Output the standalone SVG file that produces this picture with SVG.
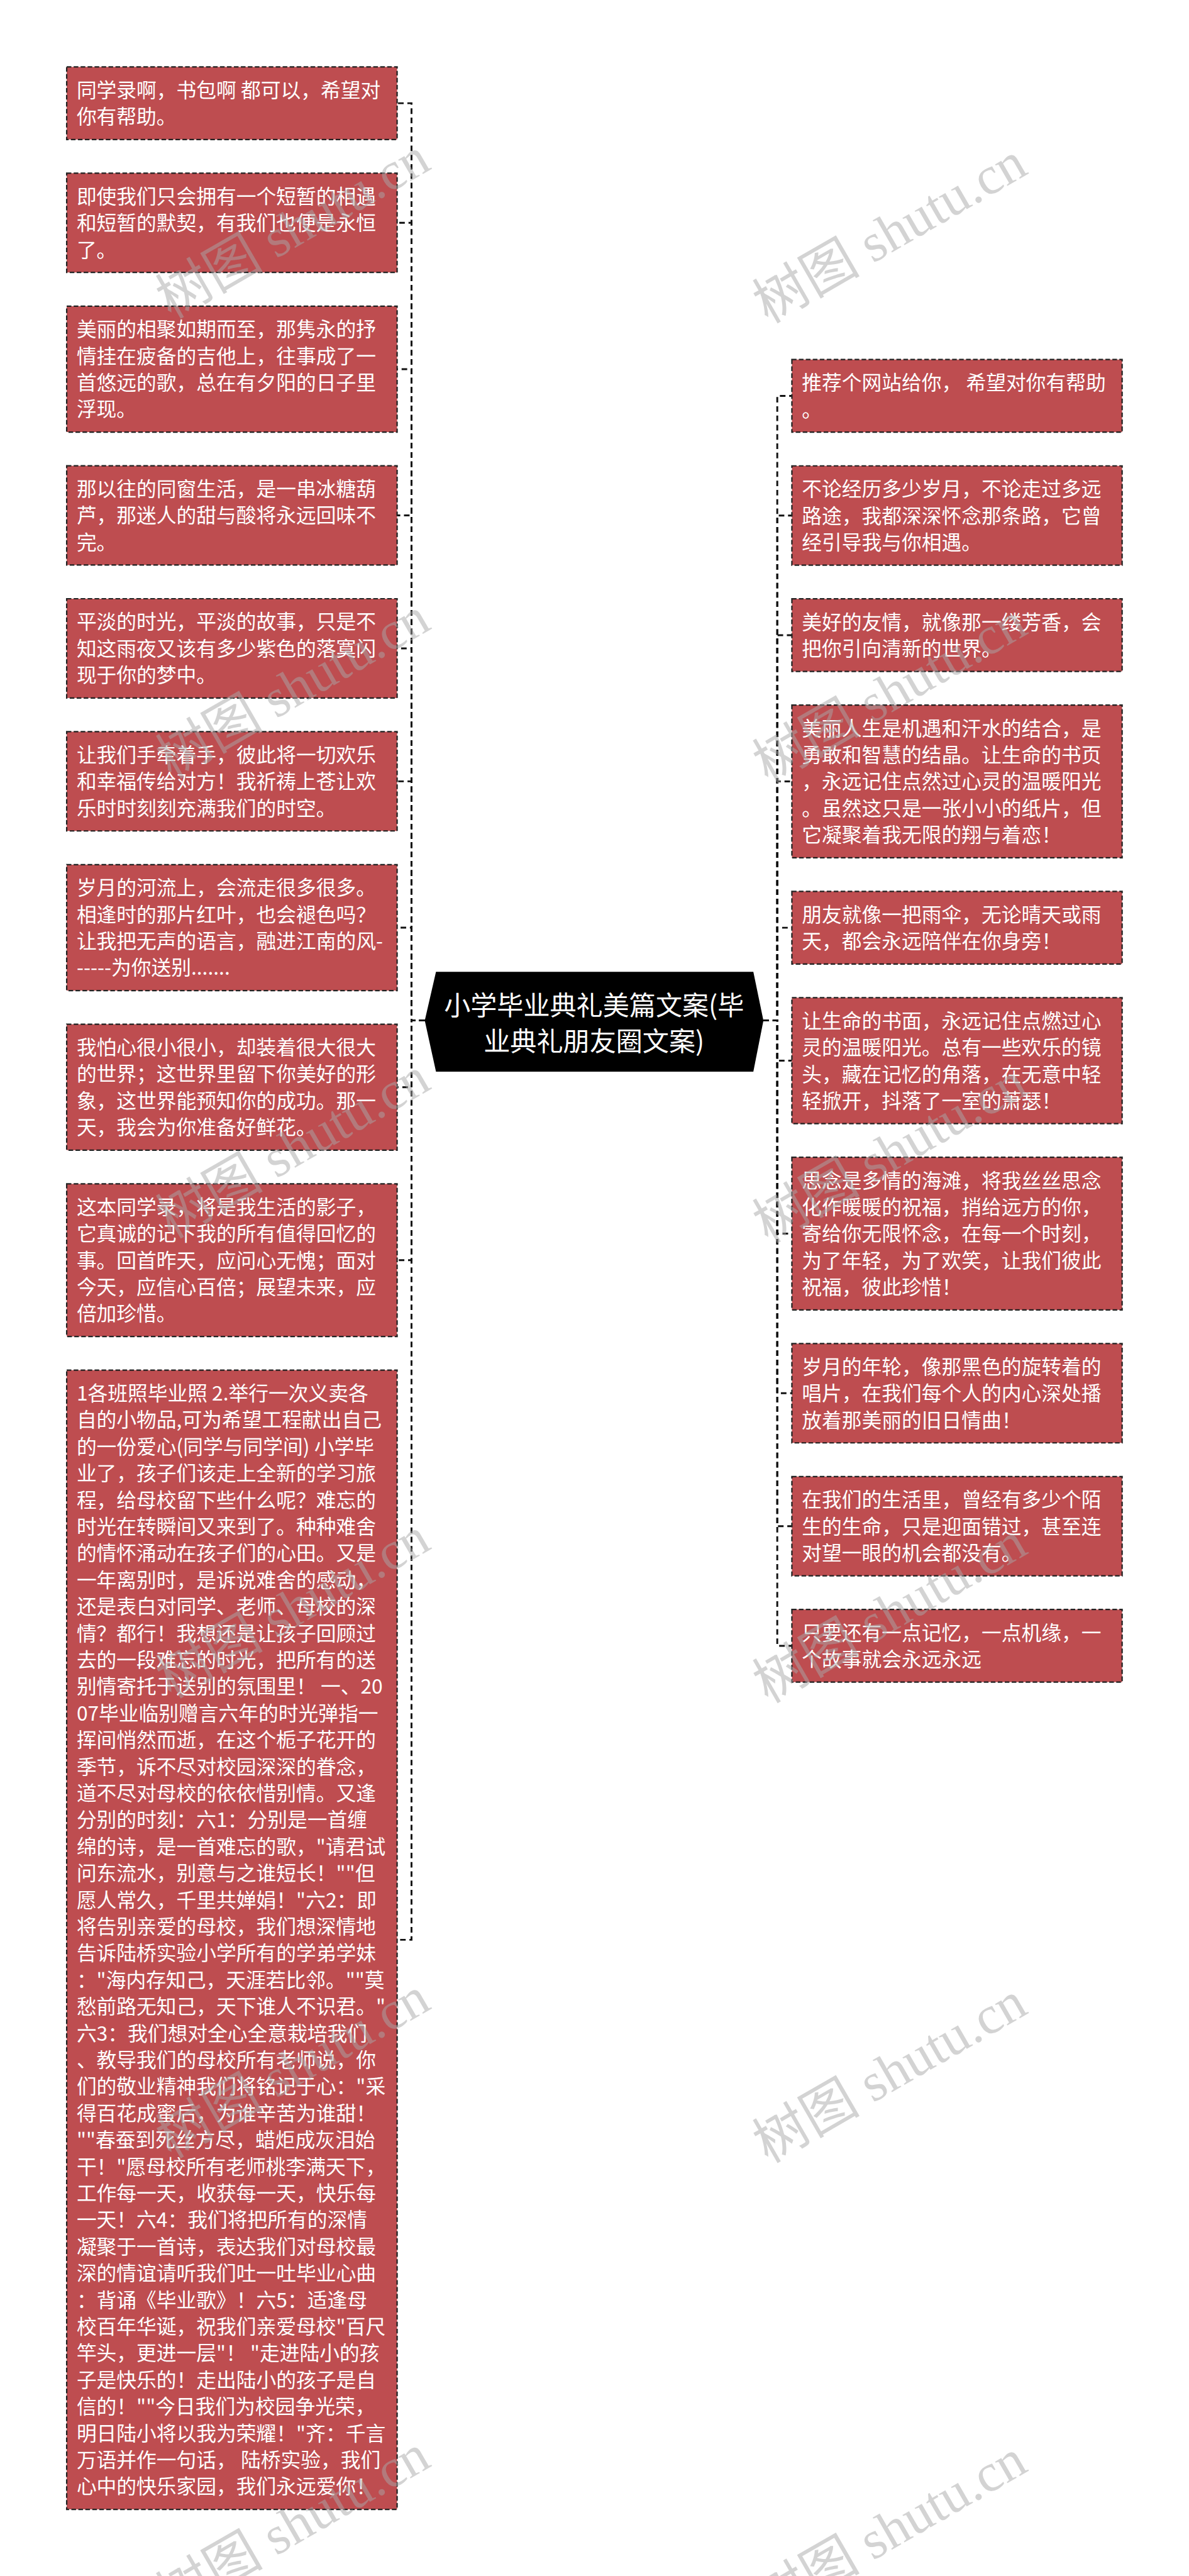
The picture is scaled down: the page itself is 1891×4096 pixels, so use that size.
<svg xmlns="http://www.w3.org/2000/svg" width="1891" height="4096" viewBox="0 0 1891 4096">
<style>
.box{fill:#BE4D50;stroke:#222;stroke-width:3;stroke-dasharray:10 5}
.t{font-family:"Noto Sans CJK SC","Microsoft YaHei",sans-serif;font-size:43px;fill:#fff}
.rt{font-family:"Noto Sans CJK SC","Microsoft YaHei",sans-serif;font-size:57px;fill:#fff;text-anchor:middle}
.conn{fill:none;stroke:#111;stroke-width:4;stroke-dasharray:12 8}
.wm{font-family:"Liberation Serif","Noto Sans CJK SC",serif;font-size:116px;fill:#a8a8a8;fill-opacity:0.5;text-anchor:middle}
</style>
<rect width="1891" height="4096" fill="#fff"/>
<g transform="scale(0.73867)">
<g id="connectors">
<path class="conn" d="M914.6 2196.7H886V222.2H855"/>
<path class="conn" d="M914.6 2196.7H886V479.7H855"/>
<path class="conn" d="M914.6 2196.7H886V794.6H855"/>
<path class="conn" d="M914.6 2196.7H886V1109.5H855"/>
<path class="conn" d="M914.6 2196.7H886V1395.7H855"/>
<path class="conn" d="M914.6 2196.7H886V1681.9H855"/>
<path class="conn" d="M914.6 2196.7H886V1996.8H855"/>
<path class="conn" d="M914.6 2196.7H886V2340.4H855"/>
<path class="conn" d="M914.6 2196.7H886V2712.7H855"/>
<path class="conn" d="M914.6 2196.7H886V4175.6H855"/>
<path class="conn" d="M1643.7 2196.7H1673.5V852.2H1705"/>
<path class="conn" d="M1643.7 2196.7H1673.5V1109.7H1705"/>
<path class="conn" d="M1643.7 2196.7H1673.5V1367.2H1705"/>
<path class="conn" d="M1643.7 2196.7H1673.5V1682.1H1705"/>
<path class="conn" d="M1643.7 2196.7H1673.5V1997H1705"/>
<path class="conn" d="M1643.7 2196.7H1673.5V2283.2H1705"/>
<path class="conn" d="M1643.7 2196.7H1673.5V2655.5H1705"/>
<path class="conn" d="M1643.7 2196.7H1673.5V2999.1H1705"/>
<path class="conn" d="M1643.7 2196.7H1673.5V3285.3H1705"/>
<path class="conn" d="M1643.7 2196.7H1673.5V3542.8H1705"/>
</g>
<g id="root">
<polygon points="914.6,2196.7 938.7,2092 1622,2092 1643.7,2196.7 1622,2306.7 938.7,2306.7" fill="#000"/>
<text class="rt"><tspan x="1279" y="2185">小学毕业典礼美篇文案(毕</tspan><tspan x="1279" y="2262">业典礼朋友圈文案)</tspan></text>
</g>
<g id="L1"><rect class="box" x="143.6" y="144" width="711.4" height="156.3"/>
<text class="t" x="165" y="209.5">同学录啊，书包啊 都可以，希望对<tspan x="165" dy="57.4">你有帮助。</tspan></text></g>
<g id="L2"><rect class="box" x="143.6" y="372.8" width="711.4" height="213.7"/>
<text class="t" x="165" y="438.3">即使我们只会拥有一个短暂的相遇<tspan x="165" dy="57.4">和短暂的默契，有我们也便是永恒</tspan><tspan x="165" dy="57.4">了。</tspan></text></g>
<g id="L3"><rect class="box" x="143.6" y="659" width="711.4" height="271.1"/>
<text class="t" x="165" y="724.5">美丽的相聚如期而至，那隽永的抒<tspan x="165" dy="57.4">情挂在疲备的吉他上，往事成了一</tspan><tspan x="165" dy="57.4">首悠远的歌，总在有夕阳的日子里</tspan><tspan x="165" dy="57.4">浮现。</tspan></text></g>
<g id="L4"><rect class="box" x="143.6" y="1002.6" width="711.4" height="213.7"/>
<text class="t" x="165" y="1068.1">那以往的同窗生活，是一串冰糖葫<tspan x="165" dy="57.4">芦，那迷人的甜与酸将永远回味不</tspan><tspan x="165" dy="57.4">完。</tspan></text></g>
<g id="L5"><rect class="box" x="143.6" y="1288.8" width="711.4" height="213.7"/>
<text class="t" x="165" y="1354.3">平淡的时光，平淡的故事，只是不<tspan x="165" dy="57.4">知这雨夜又该有多少紫色的落寞闪</tspan><tspan x="165" dy="57.4">现于你的梦中。</tspan></text></g>
<g id="L6"><rect class="box" x="143.6" y="1575" width="711.4" height="213.7"/>
<text class="t" x="165" y="1640.5">让我们手牵着手，彼此将一切欢乐<tspan x="165" dy="57.4">和幸福传给对方！我祈祷上苍让欢</tspan><tspan x="165" dy="57.4">乐时时刻刻充满我们的时空。</tspan></text></g>
<g id="L7"><rect class="box" x="143.6" y="1861.2" width="711.4" height="271.1"/>
<text class="t" x="165" y="1926.7">岁月的河流上，会流走很多很多。<tspan x="165" dy="57.4">相逢时的那片红叶，也会褪色吗？</tspan><tspan x="165" dy="57.4">让我把无声的语言，融进江南的风-</tspan><tspan x="165" dy="57.4">-----为你送别.......</tspan></text></g>
<g id="L8"><rect class="box" x="143.6" y="2204.8" width="711.4" height="271.1"/>
<text class="t" x="165" y="2270.3">我怕心很小很小，却装着很大很大<tspan x="165" dy="57.4">的世界；这世界里留下你美好的形</tspan><tspan x="165" dy="57.4">象，这世界能预知你的成功。那一</tspan><tspan x="165" dy="57.4">天，我会为你准备好鲜花。</tspan></text></g>
<g id="L9"><rect class="box" x="143.6" y="2548.4" width="711.4" height="328.5"/>
<text class="t" x="165" y="2613.9">这本同学录，将是我生活的影子，<tspan x="165" dy="57.4">它真诚的记下我的所有值得回忆的</tspan><tspan x="165" dy="57.4">事。回首昨天，应问心无愧；面对</tspan><tspan x="165" dy="57.4">今天，应信心百倍；展望未来，应</tspan><tspan x="165" dy="57.4">倍加珍惜。</tspan></text></g>
<g id="L10"><rect class="box" x="143.6" y="2949.4" width="711.4" height="2452.3"/>
<text class="t" x="165" y="3014.9">1各班照毕业照 2.举行一次义卖各<tspan x="165" dy="57.4">自的小物品,可为希望工程献出自己</tspan><tspan x="165" dy="57.4">的一份爱心(同学与同学间) 小学毕</tspan><tspan x="165" dy="57.4">业了，孩子们该走上全新的学习旅</tspan><tspan x="165" dy="57.4">程，给母校留下些什么呢？难忘的</tspan><tspan x="165" dy="57.4">时光在转瞬间又来到了。种种难舍</tspan><tspan x="165" dy="57.4">的情怀涌动在孩子们的心田。又是</tspan><tspan x="165" dy="57.4">一年离别时，是诉说难舍的感动，</tspan><tspan x="165" dy="57.4">还是表白对同学、老师、母校的深</tspan><tspan x="165" dy="57.4">情？都行！我想还是让孩子回顾过</tspan><tspan x="165" dy="57.4">去的一段难忘的时光，把所有的送</tspan><tspan x="165" dy="57.4">别情寄托于送别的氛围里！ 一、20</tspan><tspan x="165" dy="57.4">07毕业临别赠言六年的时光弹指一</tspan><tspan x="165" dy="57.4">挥间悄然而逝，在这个栀子花开的</tspan><tspan x="165" dy="57.4">季节，诉不尽对校园深深的眷念，</tspan><tspan x="165" dy="57.4">道不尽对母校的依依惜别情。又逢</tspan><tspan x="165" dy="57.4">分别的时刻：六1：分别是一首缠</tspan><tspan x="165" dy="57.4">绵的诗，是一首难忘的歌，"请君试</tspan><tspan x="165" dy="57.4">问东流水，别意与之谁短长！""但</tspan><tspan x="165" dy="57.4">愿人常久，千里共婵娟！"六2：即</tspan><tspan x="165" dy="57.4">将告别亲爱的母校，我们想深情地</tspan><tspan x="165" dy="57.4">告诉陆桥实验小学所有的学弟学妹</tspan><tspan x="165" dy="57.4">："海内存知己，天涯若比邻。""莫</tspan><tspan x="165" dy="57.4">愁前路无知己，天下谁人不识君。"</tspan><tspan x="165" dy="57.4">六3：我们想对全心全意栽培我们</tspan><tspan x="165" dy="57.4">、教导我们的母校所有老师说，你</tspan><tspan x="165" dy="57.4">们的敬业精神我们将铭记于心："采</tspan><tspan x="165" dy="57.4">得百花成蜜后，为谁辛苦为谁甜！</tspan><tspan x="165" dy="57.4">""春蚕到死丝方尽，蜡炬成灰泪始</tspan><tspan x="165" dy="57.4">干！"愿母校所有老师桃李满天下，</tspan><tspan x="165" dy="57.4">工作每一天，收获每一天，快乐每</tspan><tspan x="165" dy="57.4">一天！六4：我们将把所有的深情</tspan><tspan x="165" dy="57.4">凝聚于一首诗，表达我们对母校最</tspan><tspan x="165" dy="57.4">深的情谊请听我们吐一吐毕业心曲</tspan><tspan x="165" dy="57.4">：背诵《毕业歌》！六5：适逢母</tspan><tspan x="165" dy="57.4">校百年华诞，祝我们亲爱母校"百尺</tspan><tspan x="165" dy="57.4">竿头，更进一层"！ "走进陆小的孩</tspan><tspan x="165" dy="57.4">子是快乐的！走出陆小的孩子是自</tspan><tspan x="165" dy="57.4">信的！""今日我们为校园争光荣，</tspan><tspan x="165" dy="57.4">明日陆小将以我为荣耀！"齐：千言</tspan><tspan x="165" dy="57.4">万语并作一句话， 陆桥实验，我们</tspan><tspan x="165" dy="57.4">心中的快乐家园，我们永远爱你！</tspan></text></g>
<g id="R1"><rect class="box" x="1705" y="774" width="711" height="156.3"/>
<text class="t" x="1726.5" y="839.5">推荐个网站给你， 希望对你有帮助<tspan x="1726.5" dy="57.4">。</tspan></text></g>
<g id="R2"><rect class="box" x="1705" y="1002.8" width="711" height="213.7"/>
<text class="t" x="1726.5" y="1068.3">不论经历多少岁月，不论走过多远<tspan x="1726.5" dy="57.4">路途，我都深深怀念那条路，它曾</tspan><tspan x="1726.5" dy="57.4">经引导我与你相遇。</tspan></text></g>
<g id="R3"><rect class="box" x="1705" y="1289" width="711" height="156.3"/>
<text class="t" x="1726.5" y="1354.5">美好的友情，就像那一缕芳香，会<tspan x="1726.5" dy="57.4">把你引向清新的世界。</tspan></text></g>
<g id="R4"><rect class="box" x="1705" y="1517.8" width="711" height="328.5"/>
<text class="t" x="1726.5" y="1583.3">美丽人生是机遇和汗水的结合，是<tspan x="1726.5" dy="57.4">勇敢和智慧的结晶。让生命的书页</tspan><tspan x="1726.5" dy="57.4">，永远记住点然过心灵的温暖阳光</tspan><tspan x="1726.5" dy="57.4">。虽然这只是一张小小的纸片，但</tspan><tspan x="1726.5" dy="57.4">它凝聚着我无限的翔与着恋！</tspan></text></g>
<g id="R5"><rect class="box" x="1705" y="1918.8" width="711" height="156.3"/>
<text class="t" x="1726.5" y="1984.3">朋友就像一把雨伞，无论晴天或雨<tspan x="1726.5" dy="57.4">天，都会永远陪伴在你身旁！</tspan></text></g>
<g id="R6"><rect class="box" x="1705" y="2147.6" width="711" height="271.1"/>
<text class="t" x="1726.5" y="2213.1">让生命的书面，永远记住点燃过心<tspan x="1726.5" dy="57.4">灵的温暖阳光。总有一些欢乐的镜</tspan><tspan x="1726.5" dy="57.4">头，藏在记忆的角落，在无意中轻</tspan><tspan x="1726.5" dy="57.4">轻掀开，抖落了一室的萧瑟！</tspan></text></g>
<g id="R7"><rect class="box" x="1705" y="2491.2" width="711" height="328.5"/>
<text class="t" x="1726.5" y="2556.7">思念是多情的海滩，将我丝丝思念<tspan x="1726.5" dy="57.4">化作暖暖的祝福，捎给远方的你，</tspan><tspan x="1726.5" dy="57.4">寄给你无限怀念，在每一个时刻，</tspan><tspan x="1726.5" dy="57.4">为了年轻，为了欢笑，让我们彼此</tspan><tspan x="1726.5" dy="57.4">祝福，彼此珍惜！</tspan></text></g>
<g id="R8"><rect class="box" x="1705" y="2892.2" width="711" height="213.7"/>
<text class="t" x="1726.5" y="2957.7">岁月的年轮，像那黑色的旋转着的<tspan x="1726.5" dy="57.4">唱片，在我们每个人的内心深处播</tspan><tspan x="1726.5" dy="57.4">放着那美丽的旧日情曲！</tspan></text></g>
<g id="R9"><rect class="box" x="1705" y="3178.4" width="711" height="213.7"/>
<text class="t" x="1726.5" y="3243.9">在我们的生活里，曾经有多少个陌<tspan x="1726.5" dy="57.4">生的生命，只是迎面错过，甚至连</tspan><tspan x="1726.5" dy="57.4">对望一眼的机会都没有。</tspan></text></g>
<g id="R10"><rect class="box" x="1705" y="3464.6" width="711" height="156.3"/>
<text class="t" x="1726.5" y="3530.1">只要还有一点记忆，一点机缘，一<tspan x="1726.5" dy="57.4">个故事就会永远永远</tspan></text></g>
<g id="watermarks">
<text class="wm" transform="translate(650 525) rotate(-30)">树图 shutu.cn</text>
<text class="wm" transform="translate(1935 535) rotate(-30)">树图 shutu.cn</text>
<text class="wm" transform="translate(650 1515) rotate(-30)">树图 shutu.cn</text>
<text class="wm" transform="translate(1935 1525) rotate(-30)">树图 shutu.cn</text>
<text class="wm" transform="translate(650 2505) rotate(-30)">树图 shutu.cn</text>
<text class="wm" transform="translate(1935 2515) rotate(-30)">树图 shutu.cn</text>
<text class="wm" transform="translate(650 3495) rotate(-30)">树图 shutu.cn</text>
<text class="wm" transform="translate(1935 3505) rotate(-30)">树图 shutu.cn</text>
<text class="wm" transform="translate(650 4485) rotate(-30)">树图 shutu.cn</text>
<text class="wm" transform="translate(1935 4495) rotate(-30)">树图 shutu.cn</text>
<text class="wm" transform="translate(650 5470) rotate(-30)">树图 shutu.cn</text>
<text class="wm" transform="translate(1935 5480) rotate(-30)">树图 shutu.cn</text>
</g>
</g>
</svg>
